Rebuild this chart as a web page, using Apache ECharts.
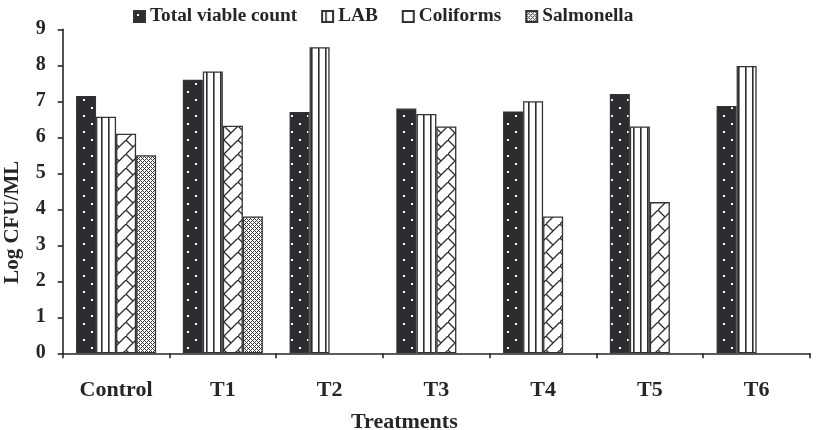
<!DOCTYPE html>
<html>
<head>
<meta charset="utf-8">
<script src="https://cdn.jsdelivr.net/npm/echarts@6/dist/echarts.min.js"></script>
<style>html,body{margin:0;padding:0;background:#fff}#c{width:818px;height:430px}</style>
</head>
<body>
<div id="c"></div>
<script>
const categories = ['Control', 'T1', 'T2', 'T3', 'T4', 'T5', 'T6'];
const seriesNames = ['Total viable count', 'LAB', 'Coliforms', 'Salmonella'];
const totalViable = [7.15, 7.6, 6.7, 6.8, 6.72, 7.2, 6.87];
const lab = [6.57, 7.83, 8.5, 6.65, 7.0, 6.3, 7.98];
const coliforms = [6.1, 6.32, null, 6.3, 3.8, 4.2, null];
const salmonella = [5.5, 3.8, null, null, null, null, null];
const yTicks = [0, 1, 2, 3, 4, 5, 6, 7, 8, 9];

const DARK = '#2d2d31';
const INK = '#262626';
const FONT = '"Liberation Serif", "Times New Roman", serif';

function makeTile(w, h, draw) {
  const c = document.createElement('canvas');
  c.width = w; c.height = h;
  const ctx = c.getContext('2d');
  draw(ctx, w, h);
  return c;
}
const dotTile = makeTile(16, 16, (ctx, w, h) => {
  ctx.fillStyle = DARK; ctx.fillRect(0, 0, w, h);
  ctx.fillStyle = '#ffffff';
  ctx.fillRect(3, 3, 2, 2);
  ctx.fillRect(11, 11, 2, 2);
});
const vlineTile = makeTile(7, 8, (ctx, w, h) => {
  ctx.fillStyle = '#ffffff'; ctx.fillRect(0, 0, w, h);
  ctx.fillStyle = DARK; ctx.fillRect(3, 0, 1.6, h);
});
const zigTile = makeTile(14, 14, (ctx, w, h) => {
  ctx.fillStyle = '#ffffff'; ctx.fillRect(0, 0, w, h);
  ctx.strokeStyle = DARK; ctx.lineWidth = 1.3;
  ctx.beginPath();
  ctx.moveTo(-1, 15); ctx.lineTo(15, -1);
  ctx.moveTo(0, 0); ctx.lineTo(7, 7);
  ctx.stroke();
});
const checkTile = makeTile(4, 4, (ctx, w, h) => {
  ctx.fillStyle = '#ffffff'; ctx.fillRect(0, 0, w, h);
  ctx.fillStyle = '#3a3a3a';
  [[0,0],[1,1],[2,2],[3,3],[1,3],[3,1]].forEach(p => ctx.fillRect(p[0], p[1], 1, 1));
});

const fills = [dotTile, vlineTile, zigTile, checkTile];
const values = [totalViable, lab, coliforms, salmonella];

const chart = echarts.init(document.getElementById('c'), null, { renderer: 'canvas' });
chart.setOption({
  animation: false,
  backgroundColor: '#ffffff',
  textStyle: { fontFamily: FONT },
  legend: {
    top: 2,
    left: 128,
    icon: 'rect',
    itemWidth: 11,
    itemHeight: 11,
    itemGap: 24,
    textStyle: { fontFamily: FONT, fontWeight: 'bold', fontSize: 19.3, color: INK },
    data: seriesNames.map((n, i) => i === 2 ? { name: n, itemStyle: { color: '#ffffff' } } : n)
  },
  grid: { left: 62.7, right: 8, top: 29.3, bottom: 76.7, containLabel: false, outerBoundsMode: 'none' },
  xAxis: {
    type: 'category',
    data: categories,
    name: 'Treatments',
    nameLocation: 'middle',
    nameGap: 58,
    nameTextStyle: { fontFamily: FONT, fontWeight: 'bold', fontSize: 22, color: INK, padding: [0, 64, 0, 0] },
    axisLine: { lineStyle: { color: INK, width: 1.6 } },
    axisTick: { show: true, inside: false, length: 5, lineStyle: { color: INK, width: 1.6 } },
    axisLabel: { margin: 26, fontFamily: FONT, fontWeight: 'bold', fontSize: 22, color: INK },
    splitLine: { show: false }
  },
  yAxis: {
    type: 'value',
    min: yTicks[0],
    max: yTicks[yTicks.length - 1],
    interval: 1,
    name: 'Log CFU/ML',
    nameLocation: 'middle',
    nameGap: 40,
    nameTextStyle: { fontFamily: FONT, fontWeight: 'bold', fontSize: 21, color: INK, padding: [0, 62, 0, 0] },
    axisLine: { show: true, lineStyle: { color: INK, width: 1.6 } },
    axisTick: { show: true, inside: false, length: 5, lineStyle: { color: INK, width: 1.6 } },
    axisLabel: { margin: 17, fontFamily: FONT, fontWeight: 'bold', fontSize: 20, color: INK },
    splitLine: { show: false }
  },
  series: seriesNames.map((name, i) => ({
    name: name,
    type: 'bar',
    data: values[i],
    barGap: '0%',
    barCategoryGap: '25%',
    itemStyle: {
      color: { image: fills[i], repeat: 'repeat' },
      borderColor: '#333333',
      borderWidth: 1.3
    }
  }))
});
</script>
</body>
</html>
